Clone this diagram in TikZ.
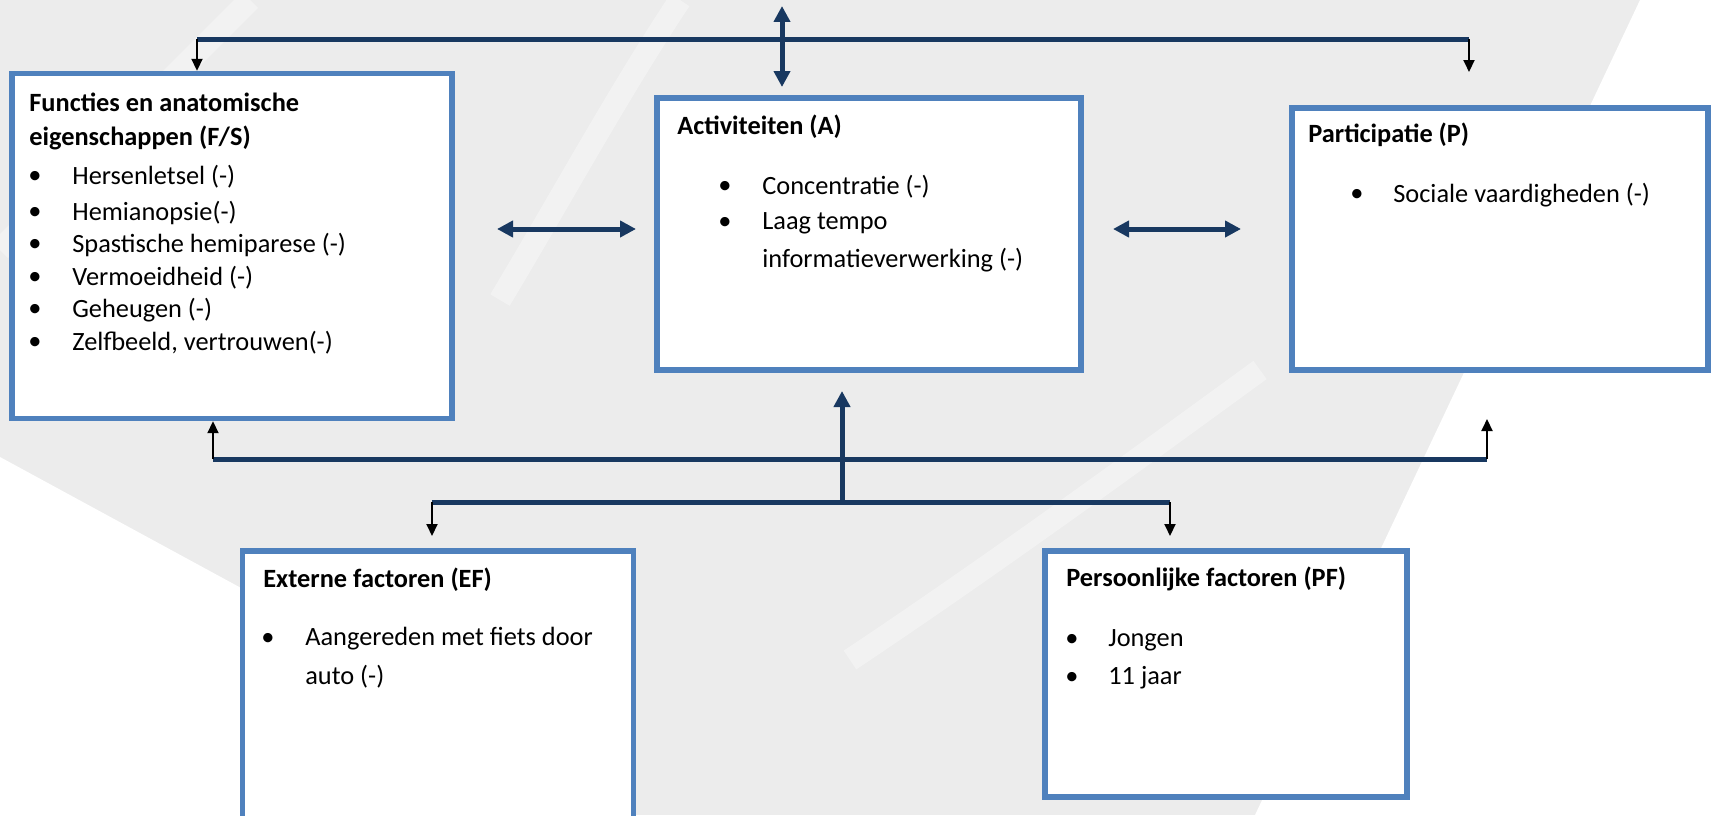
\documentclass[tikz,border=0pt]{standalone}
\usepackage{fontspec}
\setmainfont{Carlito}
\usetikzlibrary{arrows.meta}

\definecolor{kaderblauw}{RGB}{79,129,189}
\definecolor{pijlblauw}{RGB}{24,56,96}
\definecolor{achtergrond}{RGB}{236,236,236}

\tikzset{
	kader/.style={draw=kaderblauw, line width=0.11cm, fill=white, inner sep=0pt},
	titel/.style={anchor=west, inner sep=0pt, font=\fontsize{15}{18}\selectfont\bfseries},
	tekst/.style={anchor=west, inner sep=0pt, font=\fontsize{15}{18}\selectfont},
	punt/.style={inner sep=0pt, font=\fontsize{15}{18}\selectfont},
	dik/.style={draw=pijlblauw, line width=0.1cm},
	dikpijl/.style={dik, -{Triangle[length=0.32cm,width=0.32cm]}},
	dubbelpijl/.style={dik, {Triangle[length=0.32cm,width=0.32cm]}-{Triangle[length=0.32cm,width=0.32cm]}},
	dun/.style={draw=black, line width=0.04cm, -{Triangle[length=0.24cm,width=0.22cm]}},
	streep/.style={draw=white, opacity=0.35, line width=0.45cm}
}

\begin{document}
\begin{tikzpicture}[x=0.02cm, y=-0.02cm]
	\useasboundingbox (0,0) rectangle (1711,815);
	% Hintergrund
	\fill[achtergrond] (0,0) rectangle (1711,815);
	\fill[white] (1640,0) -- (1711,0) -- (1711,815) -- (1255,815) -- cycle;
	\fill[white] (0,457) -- (300,620) -- (300,815) -- (0,815) -- cycle;
	\draw[streep] (0,250) .. controls (90,160) and (180,70) .. (250,0);
	\draw[streep] (500,300) .. controls (560,200) and (620,90) .. (680,0);
	\draw[streep] (850,660) .. controls (1000,560) and (1150,450) .. (1260,370);

	% Kaesten
	\node[kader, minimum width=8.8cm, minimum height=6.9cm] (fs) at (232,246) {};
	\node[kader, minimum width=8.48cm, minimum height=5.44cm] (act) at (869,234) {};
	\node[kader, minimum width=8.32cm, minimum height=5.24cm] (par) at (1500,239) {};
	\node[kader, minimum width=7.82cm, minimum height=5.6cm] (ef) at (438,691) {};
	\node[kader, minimum width=7.24cm, minimum height=4.92cm] (pf) at (1226,674) {};

	% Functies
	\node[titel] (fsKop1) at (29,102) {Functies en anatomische};
	\node[titel] (fsKop2) at (29,138) {eigenschappen (F/S)};
	\foreach \y/\t [count=\i] in {177/Hersenletsel (-), 213/Hemianopsie(-), 245/Spastische hemiparese (-),
		278/Vermoeidheid (-), 310/Geheugen (-), 343/{Zelfbeeld, vertrouwen(-)}} {
		\node[punt] (fsPunt\i) at (35,\y) {\textbullet};
		\node[tekst] (fsItem\i) at (72,\y) {\t};
	}

	% Activiteiten
	\node[titel] (actKop) at (677,127) {Activiteiten (A)};
	\node[punt] (actPunt1) at (725,187) {\textbullet};
	\node[tekst] (actItem1) at (762,187) {Concentratie (-)};
	\node[punt] (actPunt2) at (725,223) {\textbullet};
	\node[tekst] (actItem2) at (762,223) {Laag tempo};
	\node[tekst] (actItem3) at (762,260) {informatieverwerking (-)};

	% Participatie
	\node[titel] (parKop) at (1308,135) {Participatie (P)};
	\node[punt] (parPunt1) at (1357,195) {\textbullet};
	\node[tekst] (parItem1) at (1393,195) {Sociale vaardigheden (-)};

	% Externe factoren
	\node[titel] (efKop) at (263,580) {Externe factoren (EF)};
	\node[punt] (efPunt1) at (268,639) {\textbullet};
	\node[tekst] (efItem1) at (305,639) {Aangereden met fiets door};
	\node[tekst] (efItem2) at (305,677) {auto (-)};

	% Persoonlijke factoren
	\node[titel] (pfKop) at (1066,579) {Persoonlijke factoren (PF)};
	\node[punt] (pfPunt1) at (1072,640) {\textbullet};
	\node[tekst] (pfItem1) at (1108,640) {Jongen};
	\node[punt] (pfPunt2) at (1072,678) {\textbullet};
	\node[tekst] (pfItem2) at (1108,678) {11 jaar};

	% Verbindungen oben
	\coordinate (bovenL) at (197,39);
	\coordinate (bovenR) at (1469,39);
	\coordinate (parIn) at (1469,72);
	\coordinate (pijlTop) at (782,6);
	\coordinate (pijlOnder) at (782,87);
	\draw[dik] (bovenL) -- (bovenR);
	\draw[dun] (bovenL) -- (fs.north -| bovenL);
	\draw[dun] (bovenR) -- (parIn);
	\draw[dubbelpijl] (pijlTop) -- (pijlOnder);

	% Verbindungen seitlich
	\coordinate (fsRechts) at (497,229);
	\coordinate (actLinks) at (636,229);
	\coordinate (actRechts) at (1113,229);
	\coordinate (parLinks) at (1241,229);
	\draw[dubbelpijl] (fsRechts) -- (actLinks);
	\draw[dubbelpijl] (actRechts) -- (parLinks);

	% Verbindungen unten
	\coordinate (middenL) at (213,459);
	\coordinate (middenR) at (1487,459);
	\coordinate (parUit) at (1487,419);
	\coordinate (onderL) at (432,502);
	\coordinate (onderR) at (1170,502);
	\coordinate (onderM) at (842,502);
	\coordinate (actUit) at (842,391);
	\coordinate (efIn) at (432,536);
	\coordinate (pfIn) at (1170,536);
	\draw[dik] (middenL) -- (middenR);
	\draw[dik] (onderL) -- (onderR);
	\draw[dikpijl] (onderM) -- (actUit);
	\draw[dun] (middenL) -- (fs.south -| middenL);
	\draw[dun] (middenR) -- (parUit);
	\draw[dun] (onderL) -- (efIn);
	\draw[dun] (onderR) -- (pfIn);
\end{tikzpicture}
\end{document}
